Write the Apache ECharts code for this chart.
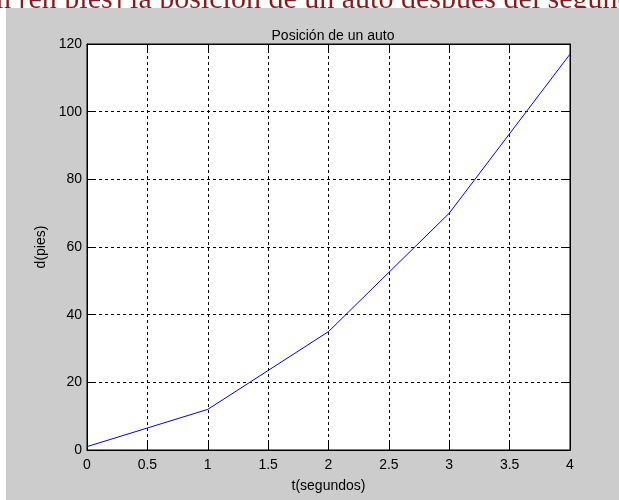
<!DOCTYPE html>
<html>
<head>
<meta charset="utf-8">
<script src="https://cdn.jsdelivr.net/npm/echarts@6/dist/echarts.min.js"></script>
<style>html,body{margin:0;padding:0;background:#fff}#c{width:619px;height:500px}</style>
</head>
<body>
<div id="c"></div>
<script>
// Data
var tValues = [0, 1, 2, 3, 4];
var dValues = [1, 12, 35, 70, 117];
var xTicks = [0, 0.5, 1, 1.5, 2, 2.5, 3, 3.5, 4];
var yTicks = [0, 20, 40, 60, 80, 100, 120];
var titleText = 'Posición de un auto';
var xName = 't(segundos)';
var yName = 'd(pies)';
var headerText = 'n [en pies] la posición de un auto después del segundo';

var chart = echarts.init(document.getElementById('c'), null, {renderer: 'canvas'});
var font = 'Liberation Sans, Arial, sans-serif';
var pts = tValues.map(function (t, i) { return [t, dValues[i]]; });

var tickStyle = {show: true, inside: true, length: 8, lineStyle: {color: '#000', width: 1}};
var axisLine = {show: true, onZero: false, lineStyle: {color: '#000', width: 1}};
var splitDashed = {show: true, lineStyle: {color: '#000', width: 1, type: [3, 3]}};

chart.setOption({
  animation: false,
  backgroundColor: '#ffffff',
  title: {
    text: titleText, left: 328, top: 24, textAlign: 'center',
    textStyle: {fontFamily: font, fontSize: 14, fontWeight: 'normal', color: '#000'}
  },
  graphic: [
    {type: 'rect', left: 6, top: 8, shape: {width: 613, height: 492}, style: {fill: '#cccccc'}, z: -4, silent: true},
    {type: 'text', x: -4, y: 15, style: {text: headerText, font: '30px "Liberation Serif", "Times New Roman", serif', fill: '#8b1a1a', verticalAlign: 'bottom'}, z: -5, silent: true}
  ],
  grid: {left: 87, right: 49, top: 44, bottom: 50, show: true, backgroundColor: '#fff', borderColor: '#000', borderWidth: 1},
  xAxis: [
    {
      type: 'value', min: 0, max: 4, interval: 0.5,
      axisLine: axisLine, axisTick: tickStyle, splitLine: splitDashed,
      axisLabel: {color: '#000', fontFamily: font, fontSize: 14, margin: 8, formatter: function (v) { return String(v); }},
      name: xName, nameLocation: 'middle', nameGap: 29,
      nameTextStyle: {color: '#000', fontFamily: font, fontSize: 14}
    },
    {
      type: 'value', min: 0, max: 4, interval: 0.5, position: 'top',
      axisLine: axisLine, axisTick: tickStyle, splitLine: {show: false}, axisLabel: {show: false}
    }
  ],
  yAxis: [
    {
      type: 'value', min: 0, max: 120, interval: 20,
      axisLine: axisLine, axisTick: tickStyle, splitLine: splitDashed,
      axisLabel: {color: '#000', fontFamily: font, fontSize: 14, margin: 5},
      name: yName, nameLocation: 'middle', nameGap: 38,
      nameTextStyle: {color: '#000', fontFamily: font, fontSize: 14}
    },
    {
      type: 'value', min: 0, max: 120, interval: 20, position: 'right',
      axisLine: axisLine, axisTick: tickStyle, splitLine: {show: false}, axisLabel: {show: false}
    }
  ],
  series: [{
    type: 'line', data: pts, symbol: 'none', showSymbol: false,
    lineStyle: {color: '#0000ff', width: 1}, itemStyle: {color: '#0000ff'}
  }]
});
</script>
</body>
</html>
